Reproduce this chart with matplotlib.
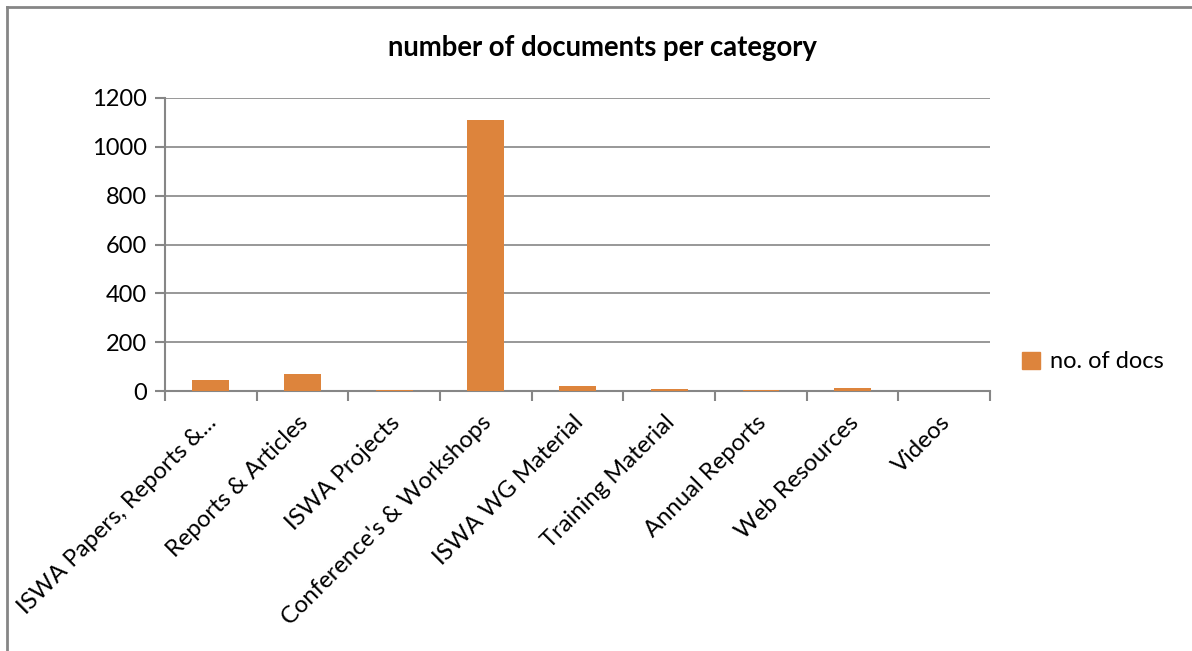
import numpy as np
import matplotlib.pyplot as plt
import matplotlib.transforms as mtransforms
from matplotlib.lines import Line2D
from matplotlib.patches import Patch

plt.rcParams["font.family"] = ["Lato", "DejaVu Sans"]

categories = ["ISWA Papers, Reports &...", "Reports & Articles", "ISWA Projects",
              "Conference's & Workshops", "ISWA WG Material", "Training Material",
              "Annual Reports", "Web Resources", "Videos"]
n_docs = [45, 70, 5, 1110, 20, 8, 5, 14, 2]

BAR_COLOR = "#DD843C"
AXIS_GRAY = "#868686"

fig = plt.figure(figsize=(11.92, 6.51), dpi=100)
ax = fig.add_axes([165 / 1192, 1 - 391 / 651, 825 / 1192, 293 / 651])

x = np.arange(len(categories))
ax.bar(x, n_docs, width=0.4, color=BAR_COLOR, zorder=3)

ax.set_xlim(-0.5, len(categories) - 0.5)
ax.set_ylim(0, 1200)
ax.set_yticks(np.arange(0, 1201, 200))
ax.yaxis.grid(True, color=AXIS_GRAY, lw=1.2, zorder=0)

# category boundary ticks, labels centered on bars
ax.set_xticks(np.arange(-0.5, len(categories), 1.0))
ax.set_xticklabels([])
ax.set_xticks(x, minor=True)
ax.set_xticklabels(categories, minor=True, rotation=45, ha="right", va="top",
                   rotation_mode="anchor", fontsize=17.2)
ax.tick_params(axis="x", which="minor", length=0, pad=15)
ax.tick_params(axis="x", which="major", length=7, width=1.5, color=AXIS_GRAY)
ax.tick_params(axis="y", length=7, width=1.5, color=AXIS_GRAY, labelsize=17, pad=6)

# nudge rotated labels a little to the left
shift = mtransforms.ScaledTranslation(-5 / 100, 0, fig.dpi_scale_trans)
for lbl in ax.get_xticklabels(minor=True):
    lbl.set_transform(lbl.get_transform() + shift)

for s in ["top", "right"]:
    ax.spines[s].set_visible(False)
for s in ["left", "bottom"]:
    ax.spines[s].set_color(AXIS_GRAY)
    ax.spines[s].set_linewidth(1.5)

fig.text(602 / 1192, 1 - 48 / 651, "number of documents per category",
         ha="center", va="center", fontsize=19.8, fontweight="bold")

ax.legend(handles=[Patch(color=BAR_COLOR, label="no. of docs")],
          loc="center left", bbox_to_anchor=(1022 / 1192, 1 - 362 / 651),
          bbox_transform=fig.transFigure, frameon=False, fontsize=17,
          handlelength=0.75, handleheight=0.75, handletextpad=0.45,
          borderpad=0, borderaxespad=0)

# outer chart border (top and left edges visible)
fig.add_artist(Line2D([7 / 1192, 1.0], [1 - 7 / 651] * 2, color=AXIS_GRAY, lw=2,
                      transform=fig.transFigure))
fig.add_artist(Line2D([7 / 1192] * 2, [0, 1 - 7 / 651], color=AXIS_GRAY, lw=2,
                      transform=fig.transFigure))

fig.savefig("out.png", dpi=100)
